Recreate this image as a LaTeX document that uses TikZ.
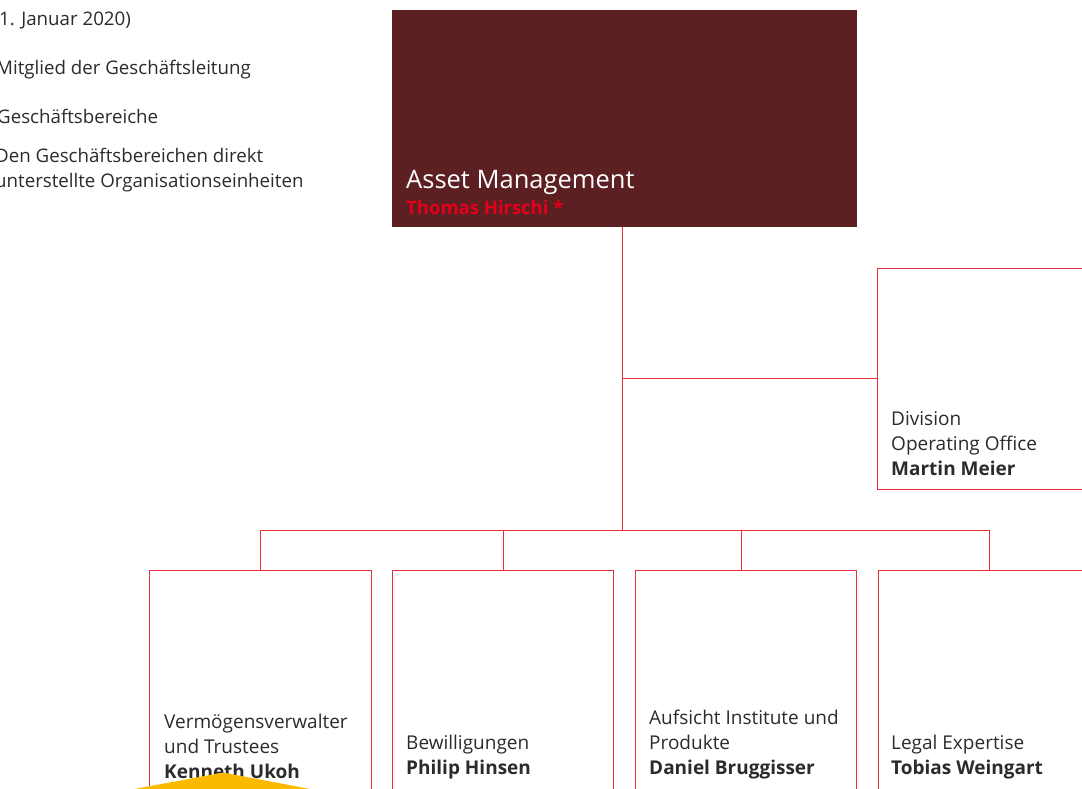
\documentclass[tikz,border=0pt]{standalone}
\usepackage{fontspec}
\setmainfont{Open Sans}
\definecolor{maroon}{HTML}{5C1F22}
\definecolor{orgred}{HTML}{E8303A}
\definecolor{txt}{HTML}{2B2B2B}
\definecolor{hired}{HTML}{E2001A}
\definecolor{ylw}{HTML}{FBBA00}
\begin{document}
\begin{tikzpicture}[x=1pt,y=-1pt,
  ln/.style={draw=orgred, line width=0.9pt},
  unit/.style={draw=orgred, line width=0.9pt, fill=white},
  lbl/.style={anchor=south west, align=left, inner sep=0pt, text=txt, font=\fontsize{19}{25}\selectfont},
  leg/.style={anchor=base west, align=left, inner sep=0pt, text=txt, font=\fontsize{18.7}{25}\selectfont}]
\useasboundingbox (0,0) rectangle (1082,789);
% legend
\node[leg] (l1) at (-1,26) {1. Januar 2020)};
\node[leg] (l2) at (-4,75) {Mitglied der Geschäftsleitung};
\node[leg] (l3) at (-3,124) {Geschäftsbereiche};
\node[leg] (l4) at (-5,188) {Den Geschäftsbereichen direkt\\unterstellte Organisationseinheiten};
% top box
\fill[maroon] (392,10) rectangle (857,227);
\coordinate (topb) at (622,227);
\node[anchor=base west, inner sep=0pt, text=white, font=\fontsize{25.5}{30}\selectfont] (am) at (406,189) {Asset Management};
\node[anchor=base west, inner sep=0pt, text=hired, font=\fontsize{18.5}{22}\bfseries\selectfont] (th) at (406,214) {Thomas Hirschi *};
% connectors
\coordinate (j1) at (622,378);
\coordinate (j2) at (622,530);
\coordinate (bl) at (260,530);
\coordinate (br) at (989,530);
\draw[ln] (topb) -- (j2);
\draw[ln] (j1) -- (877,378);
\draw[ln] (bl) -- (br);
\foreach \x in {260,503,741,989} \draw[ln] (\x,530) -- (\x,570);
% division box
\draw[unit] (877,268) -- (1090,268) (877,268) -- (877,489) -- (1090,489);
\node[lbl] (dv) at (891,476) {Division\\Operating Office\\\textbf{Martin Meier}};
% bottom boxes
\draw[unit] (149,800) -- (149,570) -- (371,570) -- (371,800);
\draw[unit] (392,800) -- (392,570) -- (613,570) -- (613,800);
\draw[unit] (635,800) -- (635,570) -- (856,570) -- (856,800);
\draw[unit] (878,800) -- (878,570) -- (1090,570);
\node[lbl] (b1) at (164,779) {Vermögensverwalter\\und Trustees\\\textbf{Kenneth Ukoh}};
\node[lbl] (b2) at (406,779) {Bewilligungen\\\textbf{Philip Hinsen}};
\node[lbl] (b3) at (649,779) {Aufsicht Institute und\\Produkte\\\textbf{Daniel Bruggisser}};
\node[lbl] (b4) at (891,779) {Legal Expertise\\\textbf{Tobias Weingart}};
% yellow shape
\fill[ylw] (102,795) -- (218,773.5) .. controls (222,772.6) and (224,772.6) .. (228,773.5) -- (342,795) -- cycle;
\end{tikzpicture}
\end{document}
